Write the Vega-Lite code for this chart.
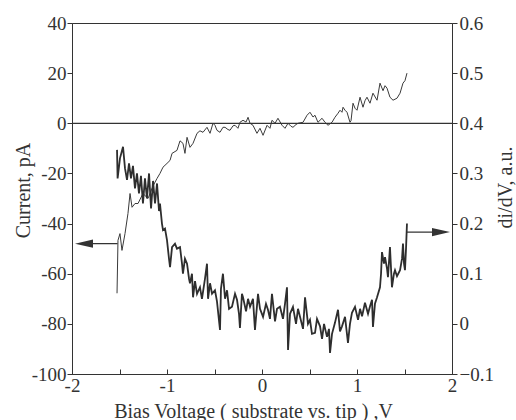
{
  "$schema": "https://vega.github.io/schema/vega-lite/v6.json",
  "width": 380,
  "height": 351,
  "autosize": {"type": "none"},
  "padding": {"left": 72, "top": 23, "right": 64, "bottom": 46},
  "background": "white",
  "config": {
    "view": {"stroke": "#333", "strokeWidth": 1},
    "axis": {
      "labelFont": "Liberation Serif", "labelFontSize": 19, "labelColor": "#333",
      "titleFont": "Liberation Serif", "titleFontSize": 20, "titleFontWeight": "normal", "titleColor": "#333",
      "domainColor": "#333", "tickColor": "#333", "grid": false
    }
  },
  "datasets": {
    "iv": [
      {"V": -1.526, "I": -67.8}, {"V": -1.516, "I": -46.7}, {"V": -1.495, "I": -44}, {"V": -1.474, "I": -50.7},
      {"V": -1.442, "I": -44}, {"V": -1.411, "I": -36}, {"V": -1.389, "I": -28}, {"V": -1.368, "I": -33.5},
      {"V": -1.337, "I": -32}, {"V": -1.305, "I": -32}, {"V": -1.253, "I": -28}, {"V": -1.2, "I": -30},
      {"V": -1.147, "I": -25}, {"V": -1.105, "I": -22}, {"V": -1.074, "I": -20}, {"V": -1.042, "I": -17.5},
      {"V": -1.0, "I": -16}, {"V": -0.968, "I": -14.8}, {"V": -0.947, "I": -12}, {"V": -0.895, "I": -10.8},
      {"V": -0.863, "I": -7}, {"V": -0.832, "I": -8}, {"V": -0.811, "I": -12}, {"V": -0.789, "I": -5.6},
      {"V": -0.758, "I": -9.6}, {"V": -0.726, "I": -8}, {"V": -0.684, "I": -4}, {"V": -0.653, "I": -3},
      {"V": -0.621, "I": -3.6}, {"V": -0.579, "I": -1.6}, {"V": -0.547, "I": -4}, {"V": -0.516, "I": 0},
      {"V": -0.495, "I": -0.8}, {"V": -0.474, "I": -2.8}, {"V": -0.442, "I": -3.6}, {"V": -0.411, "I": -1.6},
      {"V": -0.389, "I": -1.6}, {"V": -0.358, "I": -2.5}, {"V": -0.337, "I": -2.8}, {"V": -0.305, "I": -1},
      {"V": -0.284, "I": -0.8}, {"V": -0.253, "I": -2}, {"V": -0.232, "I": 0.4}, {"V": -0.2, "I": 1.2},
      {"V": -0.168, "I": 0.5}, {"V": -0.147, "I": 2.4}, {"V": -0.126, "I": 0}, {"V": -0.095, "I": -0.8},
      {"V": -0.053, "I": -4}, {"V": -0.021, "I": -2}, {"V": 0.011, "I": -4.8}, {"V": 0.053, "I": -0.8},
      {"V": 0.084, "I": -2}, {"V": 0.105, "I": 1.2}, {"V": 0.137, "I": 0}, {"V": 0.168, "I": 2},
      {"V": 0.211, "I": -0.8}, {"V": 0.242, "I": -2}, {"V": 0.274, "I": 0}, {"V": 0.305, "I": -1.2},
      {"V": 0.326, "I": -1.6}, {"V": 0.358, "I": -0.5}, {"V": 0.379, "I": 0}, {"V": 0.432, "I": 0.4},
      {"V": 0.474, "I": 3.2}, {"V": 0.505, "I": 4.4}, {"V": 0.537, "I": 2.5}, {"V": 0.558, "I": 3.2},
      {"V": 0.589, "I": 0.4}, {"V": 0.632, "I": 2}, {"V": 0.663, "I": 0.4}, {"V": 0.695, "I": -0.8},
      {"V": 0.737, "I": 0.4}, {"V": 0.768, "I": 2.4}, {"V": 0.8, "I": 4}, {"V": 0.821, "I": 5.2},
      {"V": 0.842, "I": 4.4}, {"V": 0.853, "I": 6.4}, {"V": 0.874, "I": 5.2}, {"V": 0.895, "I": 4.4},
      {"V": 0.926, "I": 0.4}, {"V": 0.937, "I": 1}, {"V": 0.958, "I": 8}, {"V": 0.979, "I": 6},
      {"V": 1.0, "I": 5.2}, {"V": 1.032, "I": 10.4}, {"V": 1.063, "I": 6.4}, {"V": 1.084, "I": 9},
      {"V": 1.105, "I": 10.4}, {"V": 1.137, "I": 8}, {"V": 1.168, "I": 12}, {"V": 1.211, "I": 9.2},
      {"V": 1.242, "I": 16}, {"V": 1.274, "I": 13}, {"V": 1.295, "I": 15}, {"V": 1.316, "I": 14},
      {"V": 1.347, "I": 10.4}, {"V": 1.379, "I": 9.2}, {"V": 1.421, "I": 10}, {"V": 1.453, "I": 12},
      {"V": 1.484, "I": 16}, {"V": 1.505, "I": 17}, {"V": 1.526, "I": 20}
    ],
    "didv": [
      {"V": -1.526, "D": 0.347}, {"V": -1.52, "D": 0.29}, {"V": -1.495, "D": 0.33}, {"V": -1.463, "D": 0.353},
      {"V": -1.442, "D": 0.31}, {"V": -1.421, "D": 0.287}, {"V": -1.4, "D": 0.32}, {"V": -1.379, "D": 0.29},
      {"V": -1.358, "D": 0.315}, {"V": -1.337, "D": 0.27}, {"V": -1.316, "D": 0.3}, {"V": -1.295, "D": 0.26},
      {"V": -1.274, "D": 0.295}, {"V": -1.253, "D": 0.24}, {"V": -1.232, "D": 0.29}, {"V": -1.211, "D": 0.25},
      {"V": -1.189, "D": 0.3}, {"V": -1.168, "D": 0.23}, {"V": -1.147, "D": 0.285}, {"V": -1.126, "D": 0.24},
      {"V": -1.105, "D": 0.28}, {"V": -1.084, "D": 0.225}, {"V": -1.074, "D": 0.24}, {"V": -1.053, "D": 0.2},
      {"V": -1.042, "D": 0.187}, {"V": -1.021, "D": 0.19}, {"V": -1.0, "D": 0.167}, {"V": -0.979, "D": 0.13},
      {"V": -0.968, "D": 0.113}, {"V": -0.947, "D": 0.153}, {"V": -0.916, "D": 0.16}, {"V": -0.895, "D": 0.15},
      {"V": -0.863, "D": 0.153}, {"V": -0.842, "D": 0.12}, {"V": -0.832, "D": 0.1}, {"V": -0.811, "D": 0.13},
      {"V": -0.789, "D": 0.12}, {"V": -0.768, "D": 0.09}, {"V": -0.758, "D": 0.081}, {"V": -0.737, "D": 0.1},
      {"V": -0.726, "D": 0.053}, {"V": -0.705, "D": 0.085}, {"V": -0.684, "D": 0.06}, {"V": -0.653, "D": 0.073},
      {"V": -0.632, "D": 0.05}, {"V": -0.6, "D": 0.09}, {"V": -0.579, "D": 0.12}, {"V": -0.568, "D": 0.05},
      {"V": -0.547, "D": 0.081}, {"V": -0.526, "D": 0.06}, {"V": -0.495, "D": 0.067}, {"V": -0.474, "D": 0.045},
      {"V": -0.442, "D": -0.012}, {"V": -0.432, "D": 0.07}, {"V": -0.411, "D": 0.1}, {"V": -0.389, "D": 0.05},
      {"V": -0.368, "D": 0.067}, {"V": -0.347, "D": 0.03}, {"V": -0.316, "D": 0.034}, {"V": -0.284, "D": 0.06},
      {"V": -0.263, "D": 0.048}, {"V": -0.242, "D": 0.02}, {"V": -0.232, "D": -0.008}, {"V": -0.211, "D": 0.06},
      {"V": -0.2, "D": 0.053}, {"V": -0.168, "D": 0.025}, {"V": -0.147, "D": 0.05}, {"V": -0.126, "D": 0.034},
      {"V": -0.095, "D": 0.05}, {"V": -0.074, "D": -0.012}, {"V": -0.042, "D": 0.06}, {"V": -0.021, "D": 0.03},
      {"V": 0.011, "D": 0.014}, {"V": 0.042, "D": 0.04}, {"V": 0.063, "D": 0.028}, {"V": 0.084, "D": 0.01},
      {"V": 0.105, "D": 0.06}, {"V": 0.137, "D": 0.005}, {"V": 0.158, "D": 0.03}, {"V": 0.189, "D": 0.034},
      {"V": 0.221, "D": 0.01}, {"V": 0.242, "D": 0.04}, {"V": 0.263, "D": 0.073}, {"V": 0.274, "D": -0.052},
      {"V": 0.295, "D": 0.02}, {"V": 0.326, "D": 0.034}, {"V": 0.358, "D": 0.0}, {"V": 0.379, "D": 0.03},
      {"V": 0.4, "D": 0.014}, {"V": 0.432, "D": -0.01}, {"V": 0.453, "D": 0.053}, {"V": 0.484, "D": 0.0},
      {"V": 0.505, "D": 0.008}, {"V": 0.526, "D": -0.02}, {"V": 0.558, "D": -0.018}, {"V": 0.579, "D": 0.01},
      {"V": 0.611, "D": -0.005}, {"V": 0.632, "D": -0.03}, {"V": 0.653, "D": 0.0}, {"V": 0.684, "D": -0.026},
      {"V": 0.705, "D": -0.01}, {"V": 0.716, "D": -0.058}, {"V": 0.737, "D": -0.02}, {"V": 0.768, "D": 0.002},
      {"V": 0.8, "D": 0.028}, {"V": 0.821, "D": -0.015}, {"V": 0.842, "D": -0.005}, {"V": 0.874, "D": 0.014},
      {"V": 0.905, "D": -0.038}, {"V": 0.926, "D": 0.0}, {"V": 0.947, "D": 0.022}, {"V": 0.979, "D": 0.034},
      {"V": 1.011, "D": 0.008}, {"V": 1.032, "D": 0.03}, {"V": 1.053, "D": 0.015}, {"V": 1.084, "D": 0.042},
      {"V": 1.116, "D": 0.02}, {"V": 1.137, "D": 0.035}, {"V": 1.158, "D": 0.048}, {"V": 1.168, "D": -0.006},
      {"V": 1.189, "D": 0.04}, {"V": 1.211, "D": 0.053}, {"V": 1.242, "D": 0.073}, {"V": 1.253, "D": 0.1},
      {"V": 1.263, "D": 0.143}, {"V": 1.284, "D": 0.12}, {"V": 1.295, "D": 0.133}, {"V": 1.316, "D": 0.11},
      {"V": 1.326, "D": 0.093}, {"V": 1.347, "D": 0.153}, {"V": 1.368, "D": 0.073}, {"V": 1.389, "D": 0.1},
      {"V": 1.4, "D": 0.107}, {"V": 1.421, "D": 0.095}, {"V": 1.453, "D": 0.107}, {"V": 1.474, "D": 0.13},
      {"V": 1.484, "D": 0.16}, {"V": 1.495, "D": 0.12}, {"V": 1.505, "D": 0.107}, {"V": 1.516, "D": 0.15},
      {"V": 1.526, "D": 0.2}
    ]
  },
  "layer": [
    {
      "layer": [
        {
          "data": {"name": "iv"},
          "mark": {"type": "line", "color": "#3a3a3a", "strokeWidth": 1, "interpolate": "linear"},
          "encoding": {
            "x": {
              "field": "V", "type": "quantitative",
              "scale": {"domain": [-2, 2], "nice": false, "zero": false},
              "axis": {
                "title": "Bias Voltage ( substrate vs. tip ) ,V",
                "values": [-2, -1.5, -1, -0.5, 0, 0.5, 1, 1.5, 2],
                "labelExpr": "datum.value % 1 == 0 ? '' + datum.value : ''",
                "tickSize": -5, "labelPadding": 7, "labelFlush": false,
                "titleX": 181, "titleY": 37, "titleBaseline": "middle"
              }
            },
            "y": {
              "field": "I", "type": "quantitative",
              "scale": {"domain": [-100, 40], "nice": false, "zero": false},
              "axis": {
                "title": "Current, pA",
                "orient": "left",
                "values": [-100, -80, -60, -40, -20, 0, 20, 40],
                "labelExpr": "'' + datum.value",
                "tickSize": 5, "labelPadding": 1, "labelFlush": false,
                "titleX": -49, "titleY": 167, "titleBaseline": "middle", "titleAngle": -90
              }
            }
          }
        },
        {
          "data": {"values": [{"I": 0}]},
          "mark": {"type": "rule", "color": "#333", "strokeWidth": 1.3},
          "encoding": {"y": {"field": "I", "type": "quantitative"}}
        },
        {
          "data": {"values": [{"V1": -1.52, "V2": -1.88, "I": -48}]},
          "mark": {"type": "rule", "color": "#333", "strokeWidth": 1.2},
          "encoding": {
            "x": {"field": "V1", "type": "quantitative"},
            "x2": {"field": "V2"},
            "y": {"field": "I", "type": "quantitative"}
          }
        },
        {
          "data": {"values": [{"V": -1.874, "I": -48}]},
          "mark": {"type": "point", "shape": "M-1,0L1,-0.45L1,0.45Z", "size": 324, "filled": true, "color": "#333", "opacity": 1},
          "encoding": {
            "x": {"field": "V", "type": "quantitative"},
            "y": {"field": "I", "type": "quantitative"}
          }
        }
      ]
    },
    {
      "layer": [
        {
          "data": {"name": "didv"},
          "mark": {"type": "line", "color": "#2e2e2e", "strokeWidth": 1.8},
          "encoding": {
            "x": {"field": "V", "type": "quantitative"},
            "y": {
              "field": "D", "type": "quantitative",
              "scale": {"domain": [-0.1, 0.6], "nice": false, "zero": false},
              "axis": {
                "title": "di/dV, a.u.",
                "orient": "right",
                "values": [-0.1, 0, 0.1, 0.2, 0.3, 0.4, 0.5, 0.6],
                "labelExpr": "datum.value == 0 ? '0' : format(datum.value, '.1f')",
                "tickSize": 5, "labelPadding": 2, "labelFlush": false,
                "titleX": 53, "titleY": 164, "titleBaseline": "middle", "titleAngle": -90
              }
            }
          }
        },
        {
          "data": {"values": [{"V1": 1.526, "V2": 1.88, "D": 0.183}]},
          "mark": {"type": "rule", "color": "#333", "strokeWidth": 1.2},
          "encoding": {
            "x": {"field": "V1", "type": "quantitative"},
            "x2": {"field": "V2"},
            "y": {"field": "D", "type": "quantitative"}
          }
        },
        {
          "data": {"values": [{"V": 1.884, "D": 0.183}]},
          "mark": {"type": "point", "shape": "M1,0L-1,-0.45L-1,0.45Z", "size": 324, "filled": true, "color": "#333", "opacity": 1},
          "encoding": {
            "x": {"field": "V", "type": "quantitative"},
            "y": {"field": "D", "type": "quantitative"}
          }
        }
      ]
    }
  ],
  "resolve": {"scale": {"y": "independent"}, "axis": {"y": "independent"}}
}
